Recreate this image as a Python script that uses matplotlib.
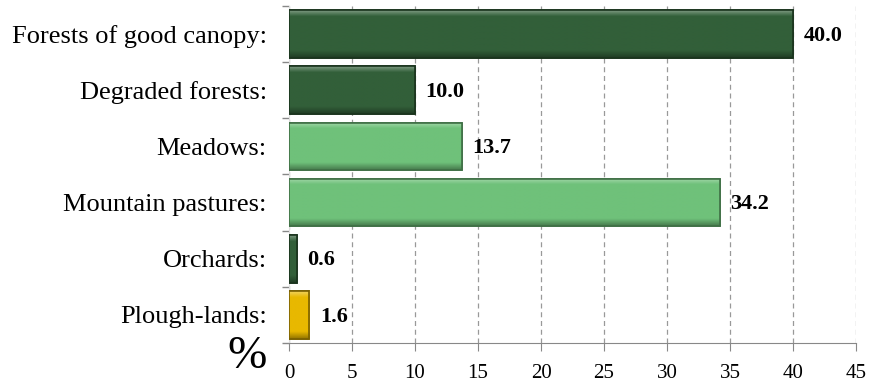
import matplotlib
matplotlib.use("Agg")
import matplotlib.pyplot as plt
import matplotlib.colors as mcolors
import numpy as np

categories = ["Forests of good canopy:", "Degraded forests:", "Meadows:",
              "Mountain pastures:", "Orchards:", "Plough-lands:"]
values = [40.0, 10.0, 13.7, 34.2, 0.6, 1.6]
colors = ["#325f39", "#325f39", "#6fc17a", "#6fc17a", "#325f39", "#e8b800"]
edges = ["#1a341d", "#1a341d", "#3f6f45", "#3f6f45", "#1a341d", "#7a6000"]
xticks = [0, 5, 10, 15, 20, 25, 30, 35, 40, 45]

serif = ["Liberation Serif", "DejaVu Serif"]

fig = plt.figure(figsize=(8.69, 3.83), dpi=100)
ax = fig.add_axes([0.3326, 0.1044, 0.6524, 0.8800])

y = np.arange(len(categories))
bars = ax.barh(y, values, height=0.85, color=colors, edgecolor=edges,
               linewidth=1.2, zorder=3)


def shade(c, f):
    r = np.array(mcolors.to_rgb(c))
    if f >= 0:
        return r + (1 - r) * f
    return r * (1 + f)


# bevel-like vertical gradient inside each bar
for b, c in zip(bars, colors):
    x0, y0 = b.get_x(), b.get_y()
    w, h = b.get_width(), b.get_height()
    n = 40
    t = np.linspace(0, 1, n)
    fac = np.where(t < 0.12, 0.35 * (1 - t / 0.12),
                   np.where(t > 0.85, -0.35 * (t - 0.85) / 0.15, 0.0))
    img = np.array([shade(c, f) for f in fac]).reshape(n, 1, 3)
    im = ax.imshow(img, extent=(x0, x0 + w, y0 + h, y0), aspect="auto",
                   zorder=3.5, interpolation="bilinear")
    im.set_clip_path(b)
    edge = plt.Rectangle((x0, y0), w, h, fill=False, edgecolor=b.get_edgecolor(),
                         linewidth=1.2, zorder=3.6)
    ax.add_patch(edge)

for yi, v in zip(y, values):
    ax.text(v + 0.85, yi + 0.03, f"{v:.1f}", va="center", ha="left", fontsize=16,
            fontweight="bold", family=serif, zorder=4)

ax.set_ylim(len(categories) - 0.5, -0.5)
ax.set_xlim(0, 45)
ax.set_xticks(xticks)
ax.set_xticklabels([str(t) for t in xticks], family=serif, fontsize=15)
ax.set_yticks(y)
ax.set_yticklabels(categories, family=serif, fontsize=19)
ax.tick_params(axis="y", length=0, pad=16)
ax.set_yticks(np.arange(-0.5, len(categories), 1.0), minor=True)
ax.tick_params(axis="y", which="minor", length=5, color="#888888", width=1)
ax.tick_params(axis="x", length=6, color="#888888", direction="out", pad=9)

ax.grid(axis="x", linestyle=(0, (4, 3)), color="#999999", linewidth=0.9, zorder=0)
for s in ["top", "right"]:
    ax.spines[s].set_visible(False)
ax.spines["left"].set_color("#dddddd")
ax.spines["bottom"].set_color("#888888")

fig.text(0.262, 0.012, "%", family=serif, fontsize=34, ha="left", va="bottom")

fig.savefig("out.png", dpi=100)
